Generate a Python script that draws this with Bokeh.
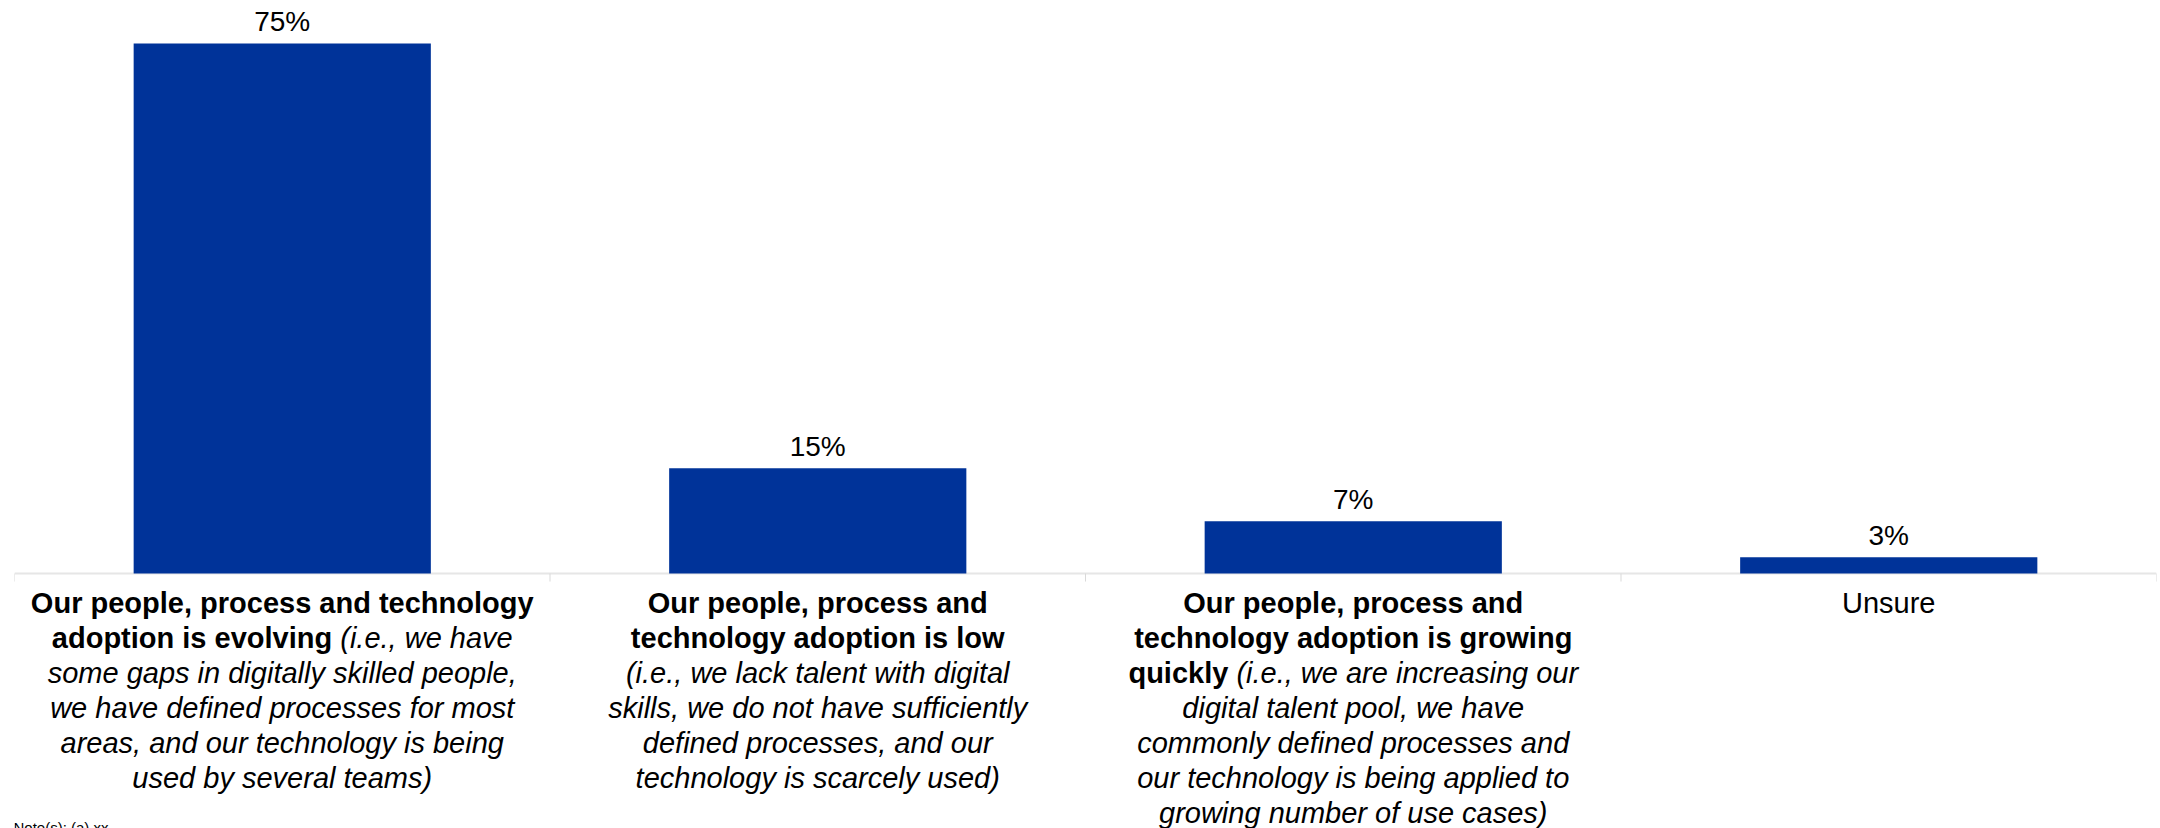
from bokeh.plotting import figure
from bokeh.models import FactorRange, Range1d, Span, ColumnDataSource
from bokeh.core.properties import value
from bokeh.embed import file_html
from bokeh.resources import INLINE

# ---------------- data ----------------
categories = ["Evolving", "Low", "Growing quickly", "Unsure"]
percent = [75, 14.9, 7.4, 2.3]          # bar heights
value_labels = ["75%", "15%", "7%", "3%"]

# tick labels: each category -> list of lines -> list of (text, style) segments
tick_labels = [
    [
        [("Our people, process and technology", "bold")],
        [("adoption is evolving", "bold"), ("(i.e., we have", "italic")],
        [("some gaps in digitally skilled people,", "italic")],
        [("we have defined processes for most", "italic")],
        [("areas, and our technology is being", "italic")],
        [("used by several teams)", "italic")],
    ],
    [
        [("Our people, process and", "bold")],
        [("technology adoption is low", "bold")],
        [("(i.e., we lack talent with digital", "italic")],
        [("skills, we do not have sufficiently", "italic")],
        [("defined processes, and our", "italic")],
        [("technology is scarcely used)", "italic")],
    ],
    [
        [("Our people, process and", "bold")],
        [("technology adoption is growing", "bold")],
        [("quickly", "bold"), ("(i.e., we are increasing our", "italic")],
        [("digital talent pool, we have", "italic")],
        [("commonly defined processes and", "italic")],
        [("our technology is being applied to", "italic")],
        [("growing number of use cases)", "italic")],
    ],
    [
        [("Unsure", "normal")],
    ],
]
note_text = "Note(s): (a) xx"

# ---------------- layout / style ----------------
FONT = "Liberation Sans"
BAR_COLOR = "#003399"
W, H = 2160, 828
BORDER_L, BORDER_R, BORDER_T = 14, 4, 8
Y_TOP, Y_BOTTOM = 79.95, -36.08
PX_PER_UNIT = (H - BORDER_T) / (Y_TOP - Y_BOTTOM)
LABEL_PX = 29
VALUE_PX = 28
BASE_FIX = 0.37          # svg baseline compensation, in em
FIRST_BASELINE = 40.5
LINE_STEP = 35

# Arial / Liberation Sans advance widths (1/1000 em)
REG = dict(zip("abcdefghijklmnopqrstuvwxyz",
               [556, 556, 500, 556, 556, 278, 556, 556, 222, 222, 500, 222, 833,
                556, 556, 556, 556, 333, 500, 278, 556, 500, 722, 500, 500, 500]))
REG.update({" ": 278, "(": 333, ")": 333, ".": 278, ",": 278})
BOLD = dict(zip("abcdefghijklmnopqrstuvwxyz",
                [556, 611, 556, 611, 556, 333, 611, 611, 278, 278, 556, 278, 889,
                 611, 611, 611, 611, 389, 556, 333, 611, 556, 778, 556, 556, 500]))
BOLD.update({" ": 278, "(": 333, ")": 333, ".": 278, ",": 278})


def text_width(s, style):
    table = BOLD if style == "bold" else REG
    return sum(table.get(c, 556) for c in s) / 1000.0 * LABEL_PX


p = figure(
    width=W, height=H,
    x_range=FactorRange(factors=categories, range_padding=0),
    y_range=Range1d(Y_BOTTOM, Y_TOP),
    x_axis_location=None, y_axis_location=None,
    toolbar_location=None, output_backend="svg",
    min_border_left=BORDER_L, min_border_right=BORDER_R,
    min_border_top=BORDER_T, min_border_bottom=0,
)
p.outline_line_color = None
p.xgrid.visible = False
p.ygrid.visible = False
p.background_fill_color = "white"
p.border_fill_color = "white"

src = ColumnDataSource(dict(cat=categories, pct=percent, lab=value_labels))
p.vbar(x="cat", top="pct", bottom=0, width=0.555, source=src,
       fill_color=BAR_COLOR, line_color=None)

# value labels
p.text(x="cat", y="pct", text="lab", source=src,
       y_offset=-11.5 - BASE_FIX * VALUE_PX,
       text_font=value(FONT), text_font_size=f"{VALUE_PX}px",
       text_align="center", text_baseline="alphabetic", text_color="#000000")

# axis line and boundary ticks
p.add_layout(Span(location=0, dimension="width", line_color="#e6e6e6",
                  line_width=2, level="underlay"))
bounds = list(range(len(categories) + 1))
tick_len = 8 / PX_PER_UNIT
p.segment(x0=bounds, y0=[0] * len(bounds), x1=bounds, y1=[-tick_len] * len(bounds),
          line_color="#d9d9d9", line_width=1)

# category labels
groups = {}
space_w = REG[" "] / 1000.0 * LABEL_PX
for cat, lines in zip(categories, tick_labels):
    for j, segs in enumerate(lines):
        yo = FIRST_BASELINE + LINE_STEP * j - BASE_FIX * LABEL_PX
        if len(segs) == 1:
            t, st = segs[0]
            groups.setdefault((st, "center"), []).append((cat, t, 0.0, yo))
        else:
            (tb, sb), (ti, si) = segs
            wb, wi = text_width(tb, sb), text_width(ti, si)
            total = wb + space_w + wi
            bold_right = -total / 2.0 + wb
            ital_left = bold_right + space_w
            groups.setdefault((sb, "right"), []).append((cat, tb, bold_right, yo))
            groups.setdefault((si, "left"), []).append((cat, ti, ital_left, yo))

for (st, al), rows in groups.items():
    s = ColumnDataSource(dict(
        x=[r[0] for r in rows], y=[0] * len(rows), text=[r[1] for r in rows],
        xo=[r[2] for r in rows], yo=[r[3] for r in rows]))
    p.text(x="x", y="y", text="text", x_offset="xo", y_offset="yo", source=s,
           text_font=value(FONT), text_font_size=f"{LABEL_PX}px",
           text_font_style=st, text_align=al, text_baseline="alphabetic",
           text_color="#000000")

# note
p.text(x=[0], y=[0], text=[note_text], x_offset=-1, y_offset=260 - BASE_FIX * 15,
       text_font=value(FONT), text_font_size="15px", text_align="left",
       text_baseline="alphabetic", text_color="#000000")

open("out.html", "w").write(file_html(p, INLINE))
